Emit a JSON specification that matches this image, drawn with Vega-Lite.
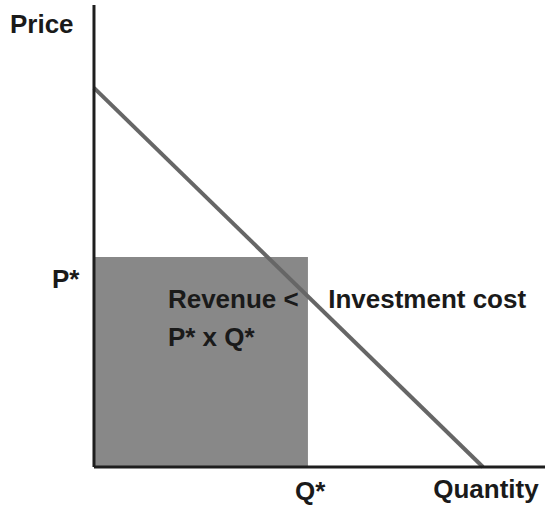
{
  "$schema": "https://vega.github.io/schema/vega-lite/v6.json",
  "width": 545,
  "height": 506,
  "autosize": {"type": "none"},
  "padding": 0,
  "background": "white",
  "config": {"view": {"stroke": null}},
  "datasets": {
    "rect": [{"q0": 0, "q1": 5.5, "p0": 0, "p1": 5.54}],
    "demand": [{"q": 0, "p": 10}, {"q": 10, "p": 0}],
    "vaxis": [{"q": 0, "p": 0}, {"q": 0, "p": 12.19}],
    "haxis": [{"q": 0, "p": 0}, {"q": 11.6, "p": 0}],
    "labels": [
      {"q": -2.16, "p": 11.66, "text": "Price"},
      {"q": -1.08, "p": 4.93, "text": "P*"},
      {"q": 5.17, "p": -0.66, "text": "Q*"},
      {"q": 8.72, "p": -0.6, "text": "Quantity"},
      {"q": 1.9, "p": 4.41, "text": "Revenue <"},
      {"q": 1.9, "p": 3.4, "text": "P* x Q*"},
      {"q": 6.02, "p": 4.41, "text": "Investment cost"}
    ]
  },
  "layer": [
    {
      "data": {"name": "rect"},
      "mark": {"type": "rect", "color": "#888888"},
      "encoding": {
        "x": {"field": "q0", "type": "quantitative", "scale": {"domain": [-2.416, 11.594], "nice": false, "zero": false}, "axis": null},
        "x2": {"field": "q1"},
        "y": {"field": "p0", "type": "quantitative", "scale": {"domain": [-1.029, 12.32], "nice": false, "zero": false}, "axis": null},
        "y2": {"field": "p1"}
      }
    },
    {
      "data": {"name": "demand"},
      "mark": {"type": "line", "color": "#666666", "strokeWidth": 4},
      "encoding": {
        "x": {"field": "q", "type": "quantitative"},
        "y": {"field": "p", "type": "quantitative"}
      }
    },
    {
      "data": {"name": "vaxis"},
      "mark": {"type": "line", "color": "#1e1e1e", "strokeWidth": 3},
      "encoding": {
        "x": {"field": "q", "type": "quantitative"},
        "y": {"field": "p", "type": "quantitative"}
      }
    },
    {
      "data": {"name": "haxis"},
      "mark": {"type": "line", "color": "#1e1e1e", "strokeWidth": 3},
      "encoding": {
        "x": {"field": "q", "type": "quantitative"},
        "y": {"field": "p", "type": "quantitative"}
      }
    },
    {
      "data": {"name": "labels"},
      "mark": {"type": "text", "align": "left", "baseline": "middle", "font": "Liberation Sans", "fontWeight": "bold", "fontSize": 26, "color": "#1a1a1a"},
      "encoding": {
        "x": {"field": "q", "type": "quantitative"},
        "y": {"field": "p", "type": "quantitative"},
        "text": {"field": "text"}
      }
    }
  ]
}
